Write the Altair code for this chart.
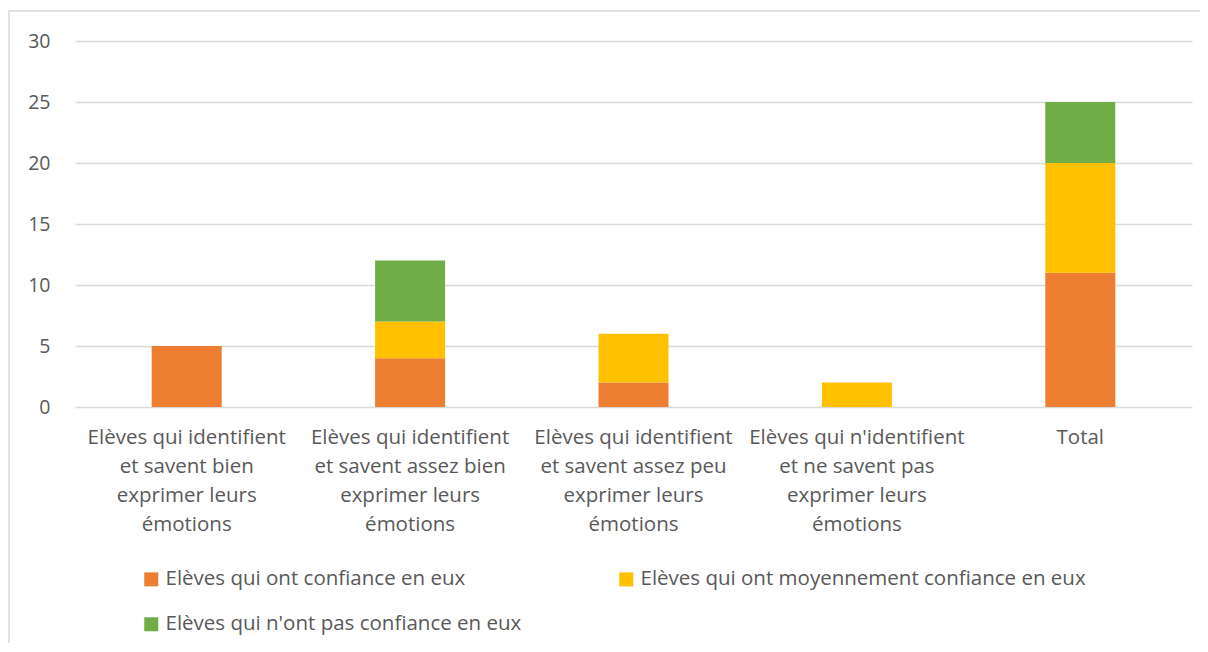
import altair as alt
import pandas as pd

categories = [
    "Elèves qui identifient|et savent bien|exprimer leurs|émotions",
    "Elèves qui identifient|et savent assez bien|exprimer leurs|émotions",
    "Elèves qui identifient|et savent assez peu|exprimer leurs|émotions",
    "Elèves qui n'identifient|et ne savent pas|exprimer leurs|émotions",
    "Total",
]
series = [
    "Elèves qui ont confiance en eux",
    "Elèves qui ont moyennement confiance en eux",
    "Elèves qui n'ont pas confiance en eux",
]
colors = ["#ED7D31", "#FFC000", "#70AD47"]
confiance = [5, 4, 2, 0, 11]
moyennement = [0, 3, 4, 2, 9]
pas_confiance = [0, 5, 0, 0, 5]

rows = []
for vals, s_idx in ((confiance, 0), (moyennement, 1), (pas_confiance, 2)):
    for c, v in zip(categories, vals):
        rows.append({"cat": c, "serie": series[s_idx], "idx": s_idx, "val": v})
df = pd.DataFrame(rows)

FONT = "Open Sans"
GREY = "#595959"

bars = alt.Chart(df).mark_bar(width=70).encode(
    x=alt.X("cat:N", sort=categories, title=None,
            axis=alt.Axis(labelExpr="split(datum.label, '|')", labelAngle=0,
                          labelLineHeight=29, labelPadding=20, ticks=False,
                          domain=False, labelFontSize=20.5, labelColor=GREY,
                          labelFont=FONT, labelLimit=300, labelBaseline="top")),
    y=alt.Y("val:Q", stack="zero", title=None,
            scale=alt.Scale(domain=[0, 30]),
            axis=alt.Axis(values=[0, 5, 10, 15, 20, 25, 30], ticks=False,
                          domain=False, labelPadding=25, labelFontSize=19.5,
                          labelColor=GREY, labelFont=FONT,
                          gridColor="#D9D9D9", gridWidth=1.5)),
    color=alt.Color("serie:N", sort=series,
                    scale=alt.Scale(domain=series, range=colors),
                    legend=alt.Legend(orient="none", legendX=66, legendY=528,
                                      columns=2, direction="horizontal",
                                      title=None, symbolType="square",
                                      symbolSize=196, symbolStrokeWidth=0,
                                      labelFontSize=20.5, labelColor=GREY,
                                      labelFont=FONT, labelLimit=0,
                                      columnPadding=94, rowPadding=24,
                                      labelOffset=4)),
    order=alt.Order("idx:Q", sort="ascending"),
)

border = alt.Chart(pd.DataFrame({"a": [0]})).mark_rect(
    fill=None, stroke="#D9D9D9", strokeWidth=1.5, clip=False
).encode(x=alt.value(-66), x2=alt.value(1160), y=alt.value(-30), y2=alt.value(700))

chart = alt.layer(border, bars).properties(
    width=1117, height=366,
    autosize=alt.AutoSizeParams(type="none"),
    padding={"left": 67, "top": 33, "right": 8, "bottom": 236},
).configure_view(stroke=None)

chart.save("out.html", embed_options={"renderer": "svg", "actions": False})
